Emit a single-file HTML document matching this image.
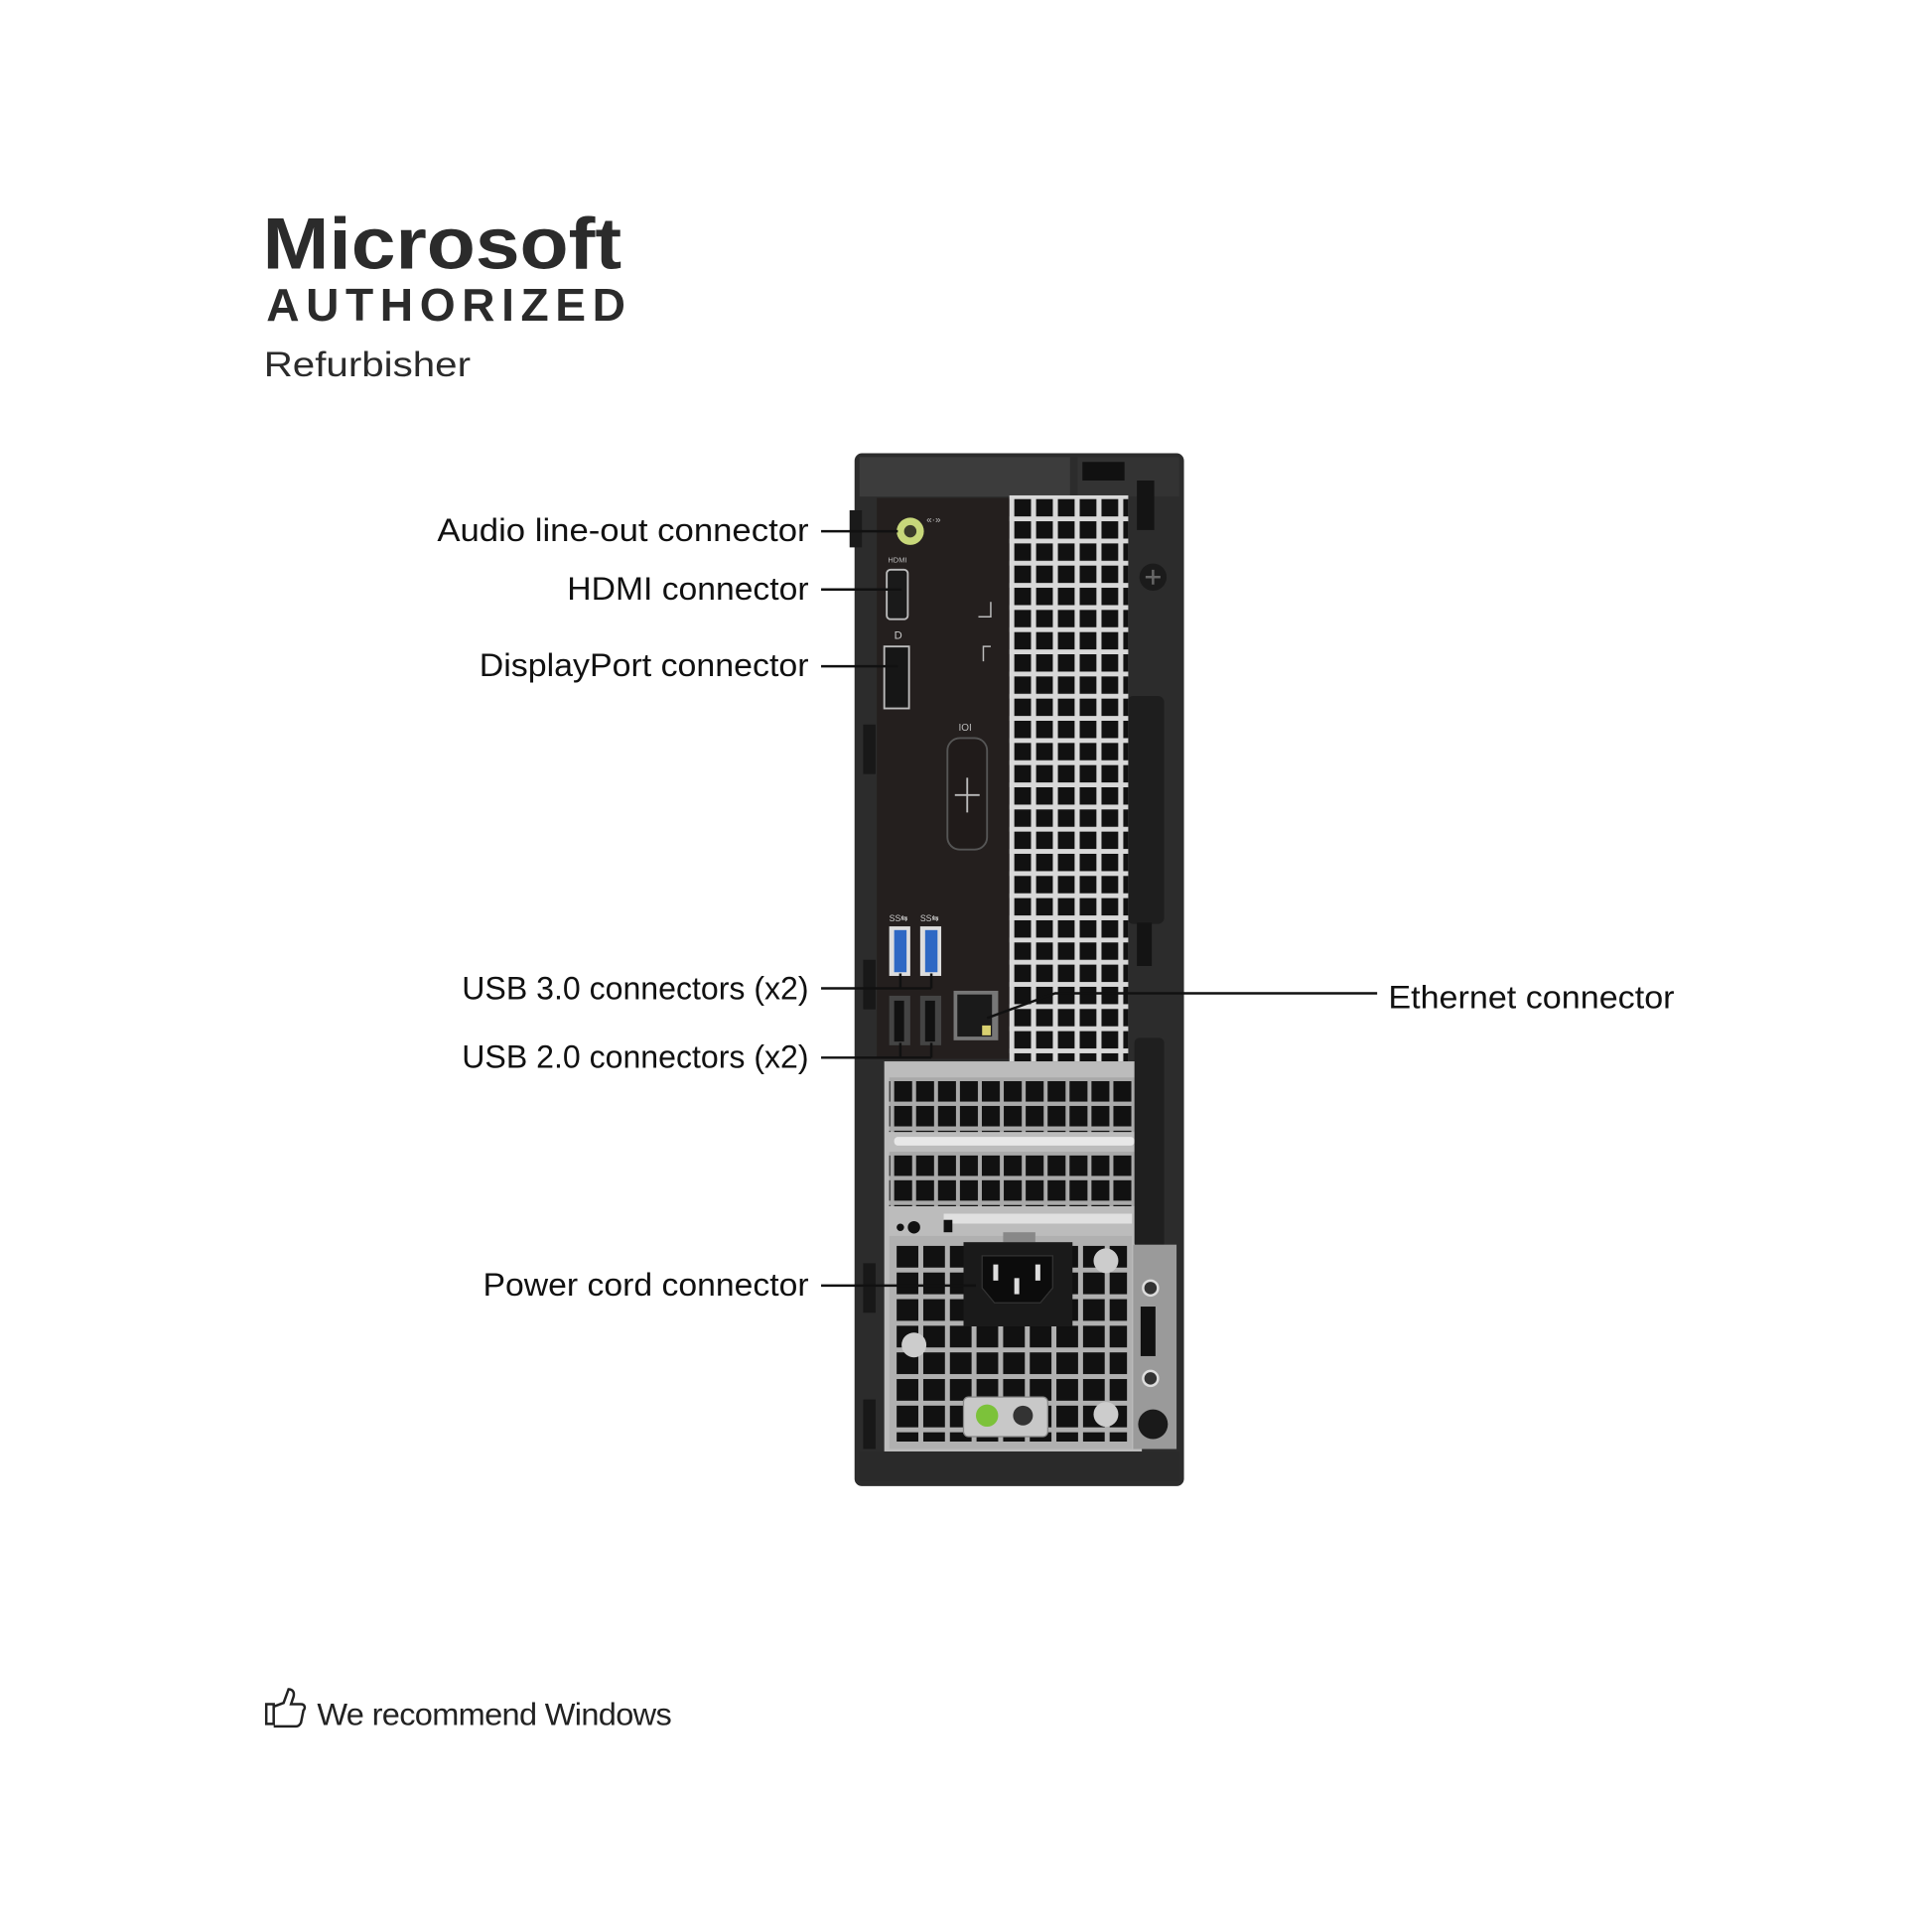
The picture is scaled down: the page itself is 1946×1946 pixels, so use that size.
<!DOCTYPE html>
<html><head><meta charset="utf-8"><style>
html,body{margin:0;padding:0;background:#fff;}
svg{display:block;}
</style></head><body>
<svg width="1946" height="1946" viewBox="0 0 1560 1560" xmlns="http://www.w3.org/2000/svg">
<defs>
<pattern id="vent" x="819" y="403" width="17.6" height="17.9" patternUnits="userSpaceOnUse">
<rect x="0" y="0" width="13.5" height="14" fill="#111"/>
</pattern>
<pattern id="pci" x="722" y="873" width="17.7" height="20" patternUnits="userSpaceOnUse">
<rect x="0" y="0" width="14.5" height="16.5" fill="#111"/>
</pattern>
<pattern id="psu" x="724" y="1006" width="21.5" height="21.5" patternUnits="userSpaceOnUse">
<rect x="0" y="0" width="17.5" height="17.5" fill="#111"/>
</pattern>
</defs>
<rect width="1560" height="1560" fill="#fff"/>

<!-- Header -->
<g font-family="Liberation Sans, sans-serif" fill="#2b2b2b">
<text x="212" y="217" font-size="59" font-weight="bold" textLength="290" lengthAdjust="spacingAndGlyphs">Microsoft</text>
<text x="215" y="259" font-size="37" font-weight="bold" textLength="290" lengthAdjust="spacing">AUTHORIZED</text>
<text x="213" y="304" font-size="28" textLength="167" lengthAdjust="spacingAndGlyphs">Refurbisher</text>
</g>

<!-- Tower -->
<rect x="690" y="366" width="266" height="834" rx="6" fill="#2c2c2c"/>
<rect x="694" y="369" width="170" height="32" fill="#3c3c3c"/>
<rect x="870" y="369" width="82" height="32" fill="#333"/>
<rect x="874" y="373" width="34" height="15" fill="#111"/>
<rect x="918" y="388" width="14" height="40" fill="#141414"/>
<circle cx="931" cy="466" r="11" fill="#1b1b1b"/>
<path d="M925 466h12M931 460v12" stroke="#666" stroke-width="2"/>
<rect x="910" y="562" width="30" height="184" rx="5" fill="#1e1e1e"/>
<rect x="918" y="745" width="12" height="35" fill="#141414"/>
<rect x="686" y="412" width="10" height="30" fill="#1a1a1a"/>
<rect x="697" y="585" width="10" height="40" fill="#181818"/>
<rect x="697" y="775" width="10" height="40" fill="#181818"/>
<rect x="697" y="1020" width="10" height="40" fill="#181818"/>
<rect x="697" y="1130" width="10" height="40" fill="#181818"/>

<!-- IO plate -->
<rect x="708" y="402" width="108" height="453" fill="#241f1e"/>
<!-- vent -->
<rect x="815" y="400" width="96" height="457" fill="#d8d8d8"/>
<rect x="815" y="400" width="96" height="457" fill="url(#vent)"/>

<!-- audio -->
<circle cx="735" cy="429" r="11" fill="#c7d77a"/>
<circle cx="735" cy="429" r="5" fill="#3a3a2a"/>
<text x="748" y="422" font-size="8" fill="#bbb" font-family="Liberation Sans, sans-serif">«·»</text>
<!-- HDMI -->
<text x="717" y="454" font-size="6" fill="#bbb" font-family="Liberation Sans, sans-serif">HDMI</text>
<rect x="716" y="460" width="17" height="40" rx="3" fill="#1a1a1a" stroke="#bbb" stroke-width="1.5"/>
<!-- DP -->
<text x="722" y="516" font-size="9" fill="#ccc" font-family="Liberation Sans, sans-serif">D</text>
<rect x="714" y="522" width="20" height="50" fill="#161616" stroke="#bbb" stroke-width="1.5"/>
<path d="M800 486v12h-10M800 522h-6v12" stroke="#bbb" stroke-width="1.2" fill="none"/>
<!-- serial cover -->
<text x="774" y="590" font-size="8" fill="#bbb" font-family="Liberation Sans, sans-serif">IOI</text>
<rect x="765" y="596" width="32" height="90" rx="10" fill="#201b1a" stroke="#555" stroke-width="1.5"/>
<path d="M781 628v28M771 642h20" stroke="#bbb" stroke-width="1.5"/>
<!-- USB3 -->
<text x="718" y="744" font-size="7" fill="#ccc" font-family="Liberation Sans, sans-serif">SS⇆</text>
<text x="743" y="744" font-size="7" fill="#ccc" font-family="Liberation Sans, sans-serif">SS⇆</text>
<rect x="718" y="748" width="17" height="40" fill="#ddd"/>
<rect x="722" y="751" width="10" height="34" fill="#2e68c4"/>
<rect x="743" y="748" width="17" height="40" fill="#ddd"/>
<rect x="747" y="751" width="10" height="34" fill="#2e68c4"/>
<!-- USB2 -->
<rect x="718" y="804" width="17" height="40" fill="#444"/>
<rect x="722" y="808" width="8" height="33" fill="#111"/>
<rect x="743" y="804" width="17" height="40" fill="#444"/>
<rect x="747" y="808" width="8" height="33" fill="#111"/>
<!-- Ethernet -->
<rect x="770" y="800" width="36" height="40" fill="#777"/>
<rect x="773" y="803" width="28" height="34" fill="#1a1a1a"/>
<rect x="793" y="828" width="7" height="8" fill="#d8d070"/>

<!-- lower silver section -->
<rect x="714" y="857" width="208" height="315" fill="#bcbcbc"/>
<rect x="718" y="870" width="198" height="44" fill="#a9a9a9"/>
<rect x="718" y="870" width="198" height="44" fill="url(#pci)"/>
<rect x="722" y="918" width="194" height="7" rx="3" fill="#e8e8e8"/>
<rect x="718" y="930" width="198" height="44" fill="#a9a9a9"/>
<rect x="718" y="930" width="198" height="44" fill="url(#pci)"/>
<rect x="762" y="980" width="152" height="8" fill="#e0e0e0"/>
<circle cx="727" cy="991" r="3" fill="#111"/><circle cx="738" cy="991" r="5" fill="#111"/>
<rect x="762" y="985" width="7" height="10" fill="#111"/>
<rect x="916" y="838" width="24" height="170" rx="4" fill="#1f1f1f"/>
<!-- PSU -->
<rect x="718" y="998" width="196" height="172" fill="#b0b0b0"/>
<rect x="722" y="1004" width="188" height="160" fill="url(#psu)"/>
<rect x="810" y="995" width="26" height="8" fill="#888"/>
<rect x="778" y="1003" width="88" height="68" fill="#1a1a1a"/>
<path d="M793 1014h57v26l-10 12h-37l-10-12z" fill="#0c0c0c" stroke="#333"/>
<rect x="802" y="1021" width="4" height="13" fill="#ddd"/><rect x="836" y="1021" width="4" height="13" fill="#ddd"/><rect x="819" y="1032" width="4" height="13" fill="#ddd"/>
<rect x="778" y="1128" width="68" height="32" rx="4" fill="#c8c8c8" stroke="#888"/>
<circle cx="797" cy="1143" r="9" fill="#7cc23a"/>
<circle cx="826" cy="1143" r="8" fill="#333"/>
<circle cx="893" cy="1018" r="10" fill="#ccc"/><circle cx="738" cy="1086" r="10" fill="#ccc"/><circle cx="893" cy="1142" r="10" fill="#ccc"/>
<rect x="915" y="1005" width="35" height="165" fill="#9a9a9a"/>
<circle cx="929" cy="1040" r="6" fill="#333" stroke="#ddd" stroke-width="2"/>
<circle cx="929" cy="1113" r="6" fill="#333" stroke="#ddd" stroke-width="2"/>
<rect x="921" y="1055" width="12" height="40" fill="#111"/>
<circle cx="931" cy="1150" r="12" fill="#1a1a1a"/>
<rect x="694" y="1172" width="258" height="24" fill="#2a2a2a"/>

<!-- leader lines -->
<g stroke="#111" stroke-width="2" fill="none">
<path d="M663 429H725"/>
<path d="M663 476H728"/>
<path d="M663 538H725"/>
<path d="M663 798H752M727 798v-12M752 798v-12"/>
<path d="M663 854H752M727 854v-12M752 854v-12"/>
<path d="M663 1038H788"/>
<path d="M1112 802H852L797 822"/>
</g>
<g font-family="Liberation Sans, sans-serif" font-size="26" fill="#111">
<text x="653" y="437" text-anchor="end" textLength="300" lengthAdjust="spacingAndGlyphs">Audio line-out connector</text>
<text x="653" y="484" text-anchor="end" textLength="195" lengthAdjust="spacingAndGlyphs">HDMI connector</text>
<text x="653" y="546" text-anchor="end" textLength="266" lengthAdjust="spacingAndGlyphs">DisplayPort connector</text>
<text x="653" y="807" text-anchor="end" textLength="280" lengthAdjust="spacingAndGlyphs">USB 3.0 connectors (x2)</text>
<text x="653" y="862" text-anchor="end" textLength="280" lengthAdjust="spacingAndGlyphs">USB 2.0 connectors (x2)</text>
<text x="653" y="1046" text-anchor="end" textLength="263" lengthAdjust="spacingAndGlyphs">Power cord connector</text>
<text x="1121" y="814" textLength="231" lengthAdjust="spacingAndGlyphs">Ethernet connector</text>
</g>

<!-- footer -->
<path d="M215 1376h6v16h-6zM221 1378l8-3 4-11c3 0 5 2 4 6l-2 6h8c3 0 4 3 2 5l-2 10c-1 2-2 3-4 3h-18" fill="none" stroke="#222" stroke-width="2"/>
<text x="256" y="1393" font-family="Liberation Sans, sans-serif" font-size="25" fill="#222" textLength="286" lengthAdjust="spacingAndGlyphs" letter-spacing="-0.5">We recommend Windows</text>
</svg>
</body></html>
